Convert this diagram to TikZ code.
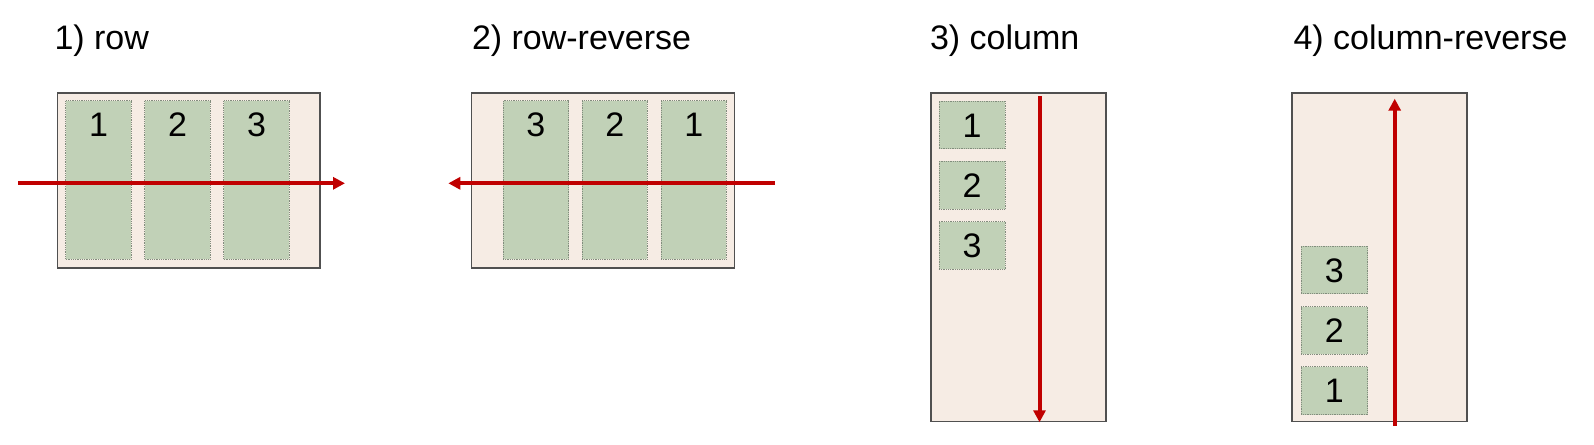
\documentclass[tikz,border=0pt]{standalone}
\usepackage{fontspec}
\setmainfont{Liberation Sans}
\usetikzlibrary{arrows.meta}
\definecolor{boxfill}{RGB}{246,236,228}
\definecolor{boxline}{RGB}{80,80,80}
\definecolor{itemfill}{RGB}{193,209,183}
\definecolor{itemline}{RGB}{130,140,125}
\definecolor{flowred}{RGB}{192,0,0}
\begin{document}
\begin{tikzpicture}[x=1pt,y=-1pt]
            \tikzstyle{every node}+=[inner sep=0pt,outer sep=0pt,font=\fontsize{34}{40}\selectfont]
            \tikzstyle{title}=[anchor=base west]
            \tikzstyle{flexbox}=[draw=boxline,line width=1.6pt,fill=boxfill]
            \tikzstyle{item}=[draw=itemline,densely dotted,line width=0.8pt,fill=itemfill,text height=36pt]
            \tikzstyle{tallitem}=[item,minimum width=65.5pt,text depth=122.3pt]
            \tikzstyle{smallitem}=[item,minimum width=66.5pt,text depth=11.7pt]
            \tikzstyle{flow}=[draw=flowred,line width=4pt,-{Triangle[length=12pt,width=12pt]}]
            \useasboundingbox (0,0) rectangle (1594,444);
            \node [title] (trow) at (54.5,49.5) {1) row};
            \node [title] (trowrev) at (472,49.5) {2) row-reverse};
            \node [title] (tcol) at (930,49.5) {3) column};
            \node [title] (tcolrev) at (1293.5,49.5) {4) column-reverse};
            \node [flexbox,minimum width=262.7pt,minimum height=175pt] (row) at (188.65,180.2) {};
            \node [tallitem] (row1) at (98.5,179.85) {1};
            \node [tallitem] (row2) at (177.5,179.85) {2};
            \node [tallitem] (row3) at (256.5,179.85) {3};
            \node [flexbox,minimum width=262.7pt,minimum height=175pt] (rowrev) at (603,180.2) {};
            \node [tallitem] (rowrev3) at (535.8,179.85) {3};
            \node [tallitem] (rowrev2) at (614.7,179.85) {2};
            \node [tallitem] (rowrev1) at (693.7,179.85) {1};
            \node [flexbox,minimum width=175.3pt,minimum height=328.6pt] (col) at (1018.35,257) {};
            \node [smallitem] (col1) at (972.15,124.85) {1};
            \node [smallitem] (col2) at (972.15,185.3) {2};
            \node [smallitem] (col3) at (972.15,245.5) {3};
            \node [flexbox,minimum width=174.8pt,minimum height=328.6pt] (colrev) at (1379.6,257) {};
            \node [smallitem] (colrev3) at (1334.35,270) {3};
            \node [smallitem] (colrev2) at (1334.35,330.35) {2};
            \node [smallitem] (colrev1) at (1334.35,390.7) {1};
            \coordinate (rowin) at (18,183.3);
            \coordinate (rowout) at (345,183.3);
            \coordinate (rowrevin) at (775,183.3);
            \coordinate (rowrevout) at (448.3,183.3);
            \coordinate (colin) at (1039.5,96);
            \coordinate (colout) at (1039.5,422.3);
            \coordinate (colrevin) at (1394.7,426);
            \coordinate (colrevout) at (1394.7,98.7);
            \draw [flow] (rowin) -- (rowout);
            \draw [flow] (rowrevin) -- (rowrevout);
            \draw [flow] (colin) -- (colout);
            \draw [flow] (colrevin) -- (colrevout);
\end{tikzpicture}
\end{document}
